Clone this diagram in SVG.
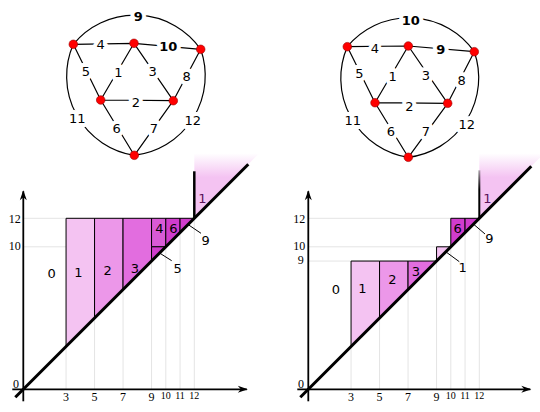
<svg xmlns="http://www.w3.org/2000/svg" width="540" height="412" viewBox="0 0 540 412">
<style>
.e{stroke:#000;stroke-width:1.2;fill:none}
.n{fill:#f00;stroke:#900;stroke-width:0.6}
.gl{font-family:"DejaVu Sans",sans-serif;font-size:13px;text-anchor:middle;fill:#000;stroke:#fff;stroke-width:8;paint-order:stroke;stroke-linejoin:round}
.b{font-weight:bold}
.grid{stroke:#e4e4e4;stroke-width:1;fill:none}
.ax{stroke:#000;stroke-width:1.8;fill:none;marker-end:url(#arr)}
.diag{stroke:#000;stroke-width:3;fill:none}
.c{stroke:#000;stroke-width:1}
.c1{fill:#f4c3f2}.c2{fill:#ec97e9}.c3{fill:#e26ddf}.c4{fill:#d95ad6}.c5{fill:#d03ccd}
.cl{font-family:"DejaVu Sans",sans-serif;font-size:13px;text-anchor:middle;fill:#000}
.dk{fill:#5a1358}
.ld{stroke:#000;stroke-width:1;fill:none}
.tk{font-family:"Liberation Serif",serif;font-size:12px;fill:#000}
.ts{font-family:"Liberation Serif",serif;font-size:10px;fill:#000;text-anchor:middle}
.tx{text-anchor:middle}
.ty{text-anchor:end}
</style>
<defs>
<marker id="arr" viewBox="-10 -4 12 8" refX="0" refY="0" markerWidth="12" markerHeight="8" markerUnits="userSpaceOnUse" orient="auto">
<path d="M1,0 L-9,-3.5 L-6,0 L-9,3.5 Z" fill="#000"/>
</marker>
<linearGradient id="pk" gradientUnits="userSpaceOnUse" x1="0" y1="-236" x2="0" y2="-212">
<stop offset="0" stop-color="#f4c3f2" stop-opacity="0"/>
<stop offset="1" stop-color="#f4c3f2" stop-opacity="1"/>
</linearGradient>
<linearGradient id="vl" gradientUnits="userSpaceOnUse" x1="0" y1="-219" x2="0" y2="-200">
<stop offset="0" stop-color="#000" stop-opacity="0.3"/>
<stop offset="1" stop-color="#000" stop-opacity="1"/>
</linearGradient>
</defs>

<!-- Left graph -->
<g id="graphL">
<g id="edgesL">
<path class="e" d="M73.3,44.3 A80,80 0 0,1 200.7,49.3"/>
<path class="e" d="M200.7,49.3 A80,80 0 0,1 134.3,155.3"/>
<path class="e" d="M134.3,155.3 A80,80 0 0,1 73.3,44.3"/>
<path class="e" d="M73.3,44.3 L134,43.3 L200.7,49.3 M73.3,44.3 L100.7,100 M134,43.3 L100.7,100 M134,43.3 L173.3,100.7 M200.7,49.3 L173.3,100.7 M100.7,100 L173.3,100.7 M100.7,100 L134.3,155.3 M173.3,100.7 L134.3,155.3"/>
<text class="gl b" x="138.3" y="20.7">9</text>
<text class="gl" x="100.7" y="49">4</text>
<text class="gl b" x="168.3" y="50.7">10</text>
<text class="gl" x="86" y="75.7">5</text>
<text class="gl" x="118.3" y="77.4">1</text>
<text class="gl" x="152.7" y="76.4">3</text>
<text class="gl" x="186.7" y="81.4">8</text>
<text class="gl" x="136" y="107.4">2</text>
<text class="gl" x="116.7" y="133">6</text>
<text class="gl" x="154" y="133">7</text>
<text class="gl" x="77.3" y="123">11</text>
<text class="gl" x="192.7" y="124.7">12</text>
</g>
<g id="nodesL">
<circle id="L_TL" class="n" cx="73.3" cy="44.3" r="4.3"/>
<circle id="L_TM" class="n" cx="134" cy="43.3" r="4.3"/>
<circle id="L_TR" class="n" cx="200.7" cy="49.3" r="4.3"/>
<circle id="L_ML" class="n" cx="100.7" cy="100" r="4.3"/>
<circle id="L_MR" class="n" cx="173.3" cy="100.7" r="4.3"/>
<circle id="L_B" class="n" cx="134.3" cy="155.3" r="4.3"/>
</g>
</g>

<!-- Right graph -->
<g id="graphR">
<g id="edgesR">
<path class="e" d="M347.3,46.7 A80,80 0 0,1 474.3,51.7"/>
<path class="e" d="M474.3,51.7 A80,80 0 0,1 408.3,157.3"/>
<path class="e" d="M408.3,157.3 A80,80 0 0,1 347.3,46.7"/>
<path class="e" d="M347.3,46.7 L408.3,46 L474.3,51.7 M347.3,46.7 L375,102.7 M408.3,46 L375,102.7 M408.3,46 L447.7,103.3 M474.3,51.7 L447.7,103.3 M375,102.7 L447.7,103.3 M375,102.7 L408.3,157.3 M447.7,103.3 L408.3,157.3"/>
<text class="gl b" x="410.7" y="24.7">10</text>
<text class="gl" x="375" y="53">4</text>
<text class="gl b" x="440.7" y="54">9</text>
<text class="gl" x="359.3" y="78">5</text>
<text class="gl" x="392.7" y="80.7">1</text>
<text class="gl" x="426" y="79.7">3</text>
<text class="gl" x="461.7" y="84.7">8</text>
<text class="gl" x="409.3" y="110.7">2</text>
<text class="gl" x="391" y="135.7">6</text>
<text class="gl" x="426" y="135.7">7</text>
<text class="gl" x="352.7" y="125.4">11</text>
<text class="gl" x="466.7" y="128.7">12</text>
</g>
<g id="nodesR">
<circle id="R_TL" class="n" cx="347.3" cy="46.7" r="4.3"/>
<circle id="R_TM" class="n" cx="408.3" cy="46" r="4.3"/>
<circle id="R_TR" class="n" cx="474.3" cy="51.7" r="4.3"/>
<circle id="R_ML" class="n" cx="375" cy="102.7" r="4.3"/>
<circle id="R_MR" class="n" cx="447.7" cy="103.3" r="4.3"/>
<circle id="R_B" class="n" cx="408.3" cy="157.3" r="4.3"/>
</g>
</g>

<!-- Left chart -->
<g id="chartL" transform="translate(23.3,389.3)">
<path class="grid" d="M0,-171 H171 M0,-142.5 H142.5 M42.75,0 V-42.75 M71.25,0 V-71.25 M99.75,0 V-99.75 M128.25,0 V-128.25 M142.5,0 V-142.5 M156.75,0 V-156.75 M171,0 V-171"/>
<path d="M171,-171 V-236 H236 Z" fill="url(#pk)"/>
<path class="c c1" d="M42.75,-42.75 V-171 H71.25 V-71.25 Z"/>
<path class="c c2" d="M71.25,-71.25 V-171 H99.75 V-99.75 Z"/>
<path class="c c3" d="M99.75,-99.75 V-171 H128.25 V-128.25 Z"/>
<path class="c c4" d="M128.25,-142.5 V-171 H142.5 V-142.5 Z"/>
<path class="c c5" d="M128.25,-128.25 V-142.5 H142.5 Z"/>
<path class="c c5" d="M142.5,-142.5 V-171 H156.75 V-156.75 Z"/>
<path class="c c5" d="M156.75,-156.75 V-171 H171 Z"/>
<line x1="171" y1="-171" x2="171" y2="-218" stroke="#000" stroke-width="2.5"/>
<line class="ax" x1="0" y1="12" x2="0" y2="-198"/>
<line class="ax" x1="-11" y1="0" x2="223.5" y2="0"/>
<line class="diag" x1="-8" y1="8" x2="225" y2="-225"/>
<path class="ld" d="M136.7,-136 L148.4,-128.6 M164.4,-165 L177.7,-156"/>
<text class="cl" x="28.4" y="-111.5">0</text>
<text class="cl" x="55" y="-112.3">1</text>
<text class="cl" x="84.4" y="-114.3">2</text>
<text class="cl" x="111.7" y="-116.6">3</text>
<text class="cl" x="136" y="-156.3">4</text>
<text class="cl" x="150" y="-156.6">6</text>
<text class="cl dk" x="179" y="-186.3">1</text>
<text class="cl" x="154.4" y="-116.3">5</text>
<text class="cl" x="182.4" y="-144.6">9</text>
<text class="tk ty" x="-2.6" y="-166.8">12</text>
<text class="tk ty" x="-2.6" y="-139.5">10</text>
<text class="tk ty" x="-4.3" y="-1.3">0</text>
<text class="tk tx" x="42.75" y="11.4">3</text>
<text class="tk tx" x="71.25" y="11.4">5</text>
<text class="tk tx" x="99.75" y="11.4">7</text>
<text class="tk tx" x="128.25" y="11.4">9</text>
<text class="ts" x="142.5" y="10">10</text>
<text class="ts" x="156.75" y="10">11</text>
<text class="ts" x="171" y="10">12</text>
</g>

<!-- Right chart -->
<g id="chartR" transform="translate(308.3,389.3)">
<path class="grid" d="M0,-171 H171 M0,-142.5 H142.5 M0,-128.25 H128.25 M42.75,0 V-42.75 M71.25,0 V-71.25 M99.75,0 V-99.75 M128.25,0 V-128.25 M142.5,0 V-142.5 M156.75,0 V-156.75 M171,0 V-171"/>
<path d="M171,-171 V-236 H236 Z" fill="url(#pk)"/>
<path class="c c1" d="M42.75,-42.75 V-128.25 H71.25 V-71.25 Z"/>
<path class="c c2" d="M71.25,-71.25 V-128.25 H99.75 V-99.75 Z"/>
<path class="c c3" d="M99.75,-99.75 V-128.25 H128.25 Z"/>
<path class="c c1" d="M128.25,-128.25 V-142.5 H142.5 Z"/>
<path class="c c5" d="M142.5,-142.5 V-171 H156.75 V-156.75 Z"/>
<path class="c c5" d="M156.75,-156.75 V-171 H171 Z"/>
<line x1="171" y1="-171" x2="171" y2="-219" stroke="url(#vl)" stroke-width="2"/>
<line class="ax" x1="0" y1="12" x2="0" y2="-198"/>
<line class="ax" x1="-11" y1="0" x2="222" y2="0"/>
<line class="diag" x1="-8" y1="8" x2="223" y2="-223"/>
<path class="ld" d="M137.4,-137.6 L151,-127.6 M165,-165.3 L176.7,-155.3"/>
<text class="cl" x="27.7" y="-95.3">0</text>
<text class="cl" x="54" y="-96.3">1</text>
<text class="cl" x="84" y="-105.3">2</text>
<text class="cl" x="107.7" y="-113.6">3</text>
<text class="cl" x="149.4" y="-156.3">6</text>
<text class="cl dk" x="179" y="-186.3">1</text>
<text class="cl" x="154.4" y="-117.3">1</text>
<text class="cl" x="181" y="-146.3">9</text>
<text class="tk ty" x="-3" y="-166.8">12</text>
<text class="tk ty" x="-3" y="-139">10</text>
<text class="tk ty" x="-4.5" y="-125">9</text>
<text class="tk ty" x="-4.3" y="-1.3">0</text>
<text class="tk tx" x="42.75" y="11.4">3</text>
<text class="tk tx" x="71.25" y="11.4">5</text>
<text class="tk tx" x="99.75" y="11.4">7</text>
<text class="tk tx" x="128.25" y="11.4">9</text>
<text class="ts" x="142.5" y="10">10</text>
<text class="ts" x="156.75" y="10">11</text>
<text class="ts" x="171" y="10">12</text>
</g>
</svg>
